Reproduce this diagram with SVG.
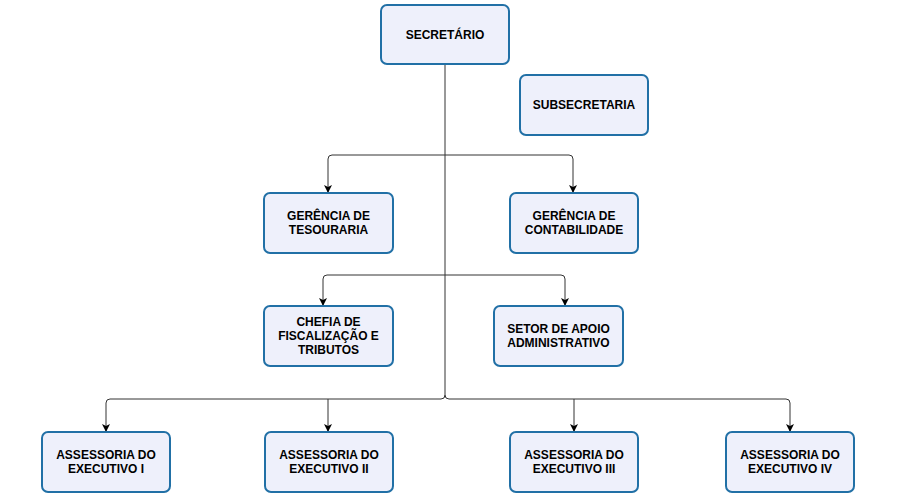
<svg xmlns="http://www.w3.org/2000/svg" width="905" height="503" viewBox="0 0 905 503">
<style>
.box{fill:#eef0fb;stroke:#2170a6;stroke-width:2}
.t{font-family:"Liberation Sans",Arial,sans-serif;font-size:12px;font-weight:bold;fill:#000;text-anchor:middle}
.c{fill:none;stroke:#333;stroke-width:1}
</style>
<defs>
<marker id="a" markerWidth="10" markerHeight="10" refX="9" refY="5" orient="auto" markerUnits="userSpaceOnUse" viewBox="0 0 10 10">
<path d="M1,1 L9,5 L1,9 L3,5 Z" fill="#000"/>
</marker>
</defs>
<rect width="905" height="503" fill="#fff"/>
<g id="connectors">
<path class="c" d="M445,64 V395"/>
<path class="c" d="M445,155 H332 Q328,155 328,159 V193" marker-end="url(#a)"/>
<path class="c" d="M445,155 H569 Q573,155 573,159 V193" marker-end="url(#a)"/>
<path class="c" d="M445,275 H327 Q323,275 323,279 V306" marker-end="url(#a)"/>
<path class="c" d="M445,275 H561 Q565,275 565,279 V306" marker-end="url(#a)"/>
<path class="c" d="M445,395 Q445,399 441,399 H110 Q106,399 106,403 V432" marker-end="url(#a)"/>
<path class="c" d="M328,399 V432" marker-end="url(#a)"/>
<path class="c" d="M445,395 Q445,399 449,399 H786 Q790,399 790,403 V432" marker-end="url(#a)"/>
<path class="c" d="M574,399 V432" marker-end="url(#a)"/>
</g>
<g id="secretario">
<rect class="box" x="381" y="5" width="128" height="59" rx="6"/>
<text class="t" x="445" y="39">SECRETÁRIO</text>
</g>
<g id="subsecretaria">
<rect class="box" x="520" y="75" width="128" height="60" rx="6"/>
<text class="t" x="584" y="109">SUBSECRETARIA</text>
</g>
<g id="tesouraria">
<rect class="box" x="264" y="193" width="129" height="60" rx="6"/>
<text class="t" x="328.5" y="220">GERÊNCIA DE</text>
<text class="t" x="328.5" y="234">TESOURARIA</text>
</g>
<g id="contabilidade">
<rect class="box" x="510" y="193" width="128" height="60" rx="6"/>
<text class="t" x="574" y="220">GERÊNCIA DE</text>
<text class="t" x="574" y="234">CONTABILIDADE</text>
</g>
<g id="chefia">
<rect class="box" x="264" y="306" width="129" height="60" rx="6"/>
<text class="t" x="328.5" y="326">CHEFIA DE</text>
<text class="t" x="328.5" y="340">FISCALIZAÇÃO E</text>
<text class="t" x="328.5" y="354">TRIBUTOS</text>
</g>
<g id="setor">
<rect class="box" x="494" y="306" width="129" height="60" rx="6"/>
<text class="t" x="558.5" y="333">SETOR DE APOIO</text>
<text class="t" x="558.5" y="347">ADMINISTRATIVO</text>
</g>
<g id="assessoria1">
<rect class="box" x="42" y="432" width="128" height="60" rx="6"/>
<text class="t" x="106" y="459">ASSESSORIA DO</text>
<text class="t" x="106" y="473">EXECUTIVO I</text>
</g>
<g id="assessoria2">
<rect class="box" x="265" y="432" width="128" height="60" rx="6"/>
<text class="t" x="329" y="459">ASSESSORIA DO</text>
<text class="t" x="329" y="473">EXECUTIVO II</text>
</g>
<g id="assessoria3">
<rect class="box" x="510" y="432" width="128" height="60" rx="6"/>
<text class="t" x="574" y="459">ASSESSORIA DO</text>
<text class="t" x="574" y="473">EXECUTIVO III</text>
</g>
<g id="assessoria4">
<rect class="box" x="726" y="432" width="128" height="60" rx="6"/>
<text class="t" x="790" y="459">ASSESSORIA DO</text>
<text class="t" x="790" y="473">EXECUTIVO IV</text>
</g>
</svg>
